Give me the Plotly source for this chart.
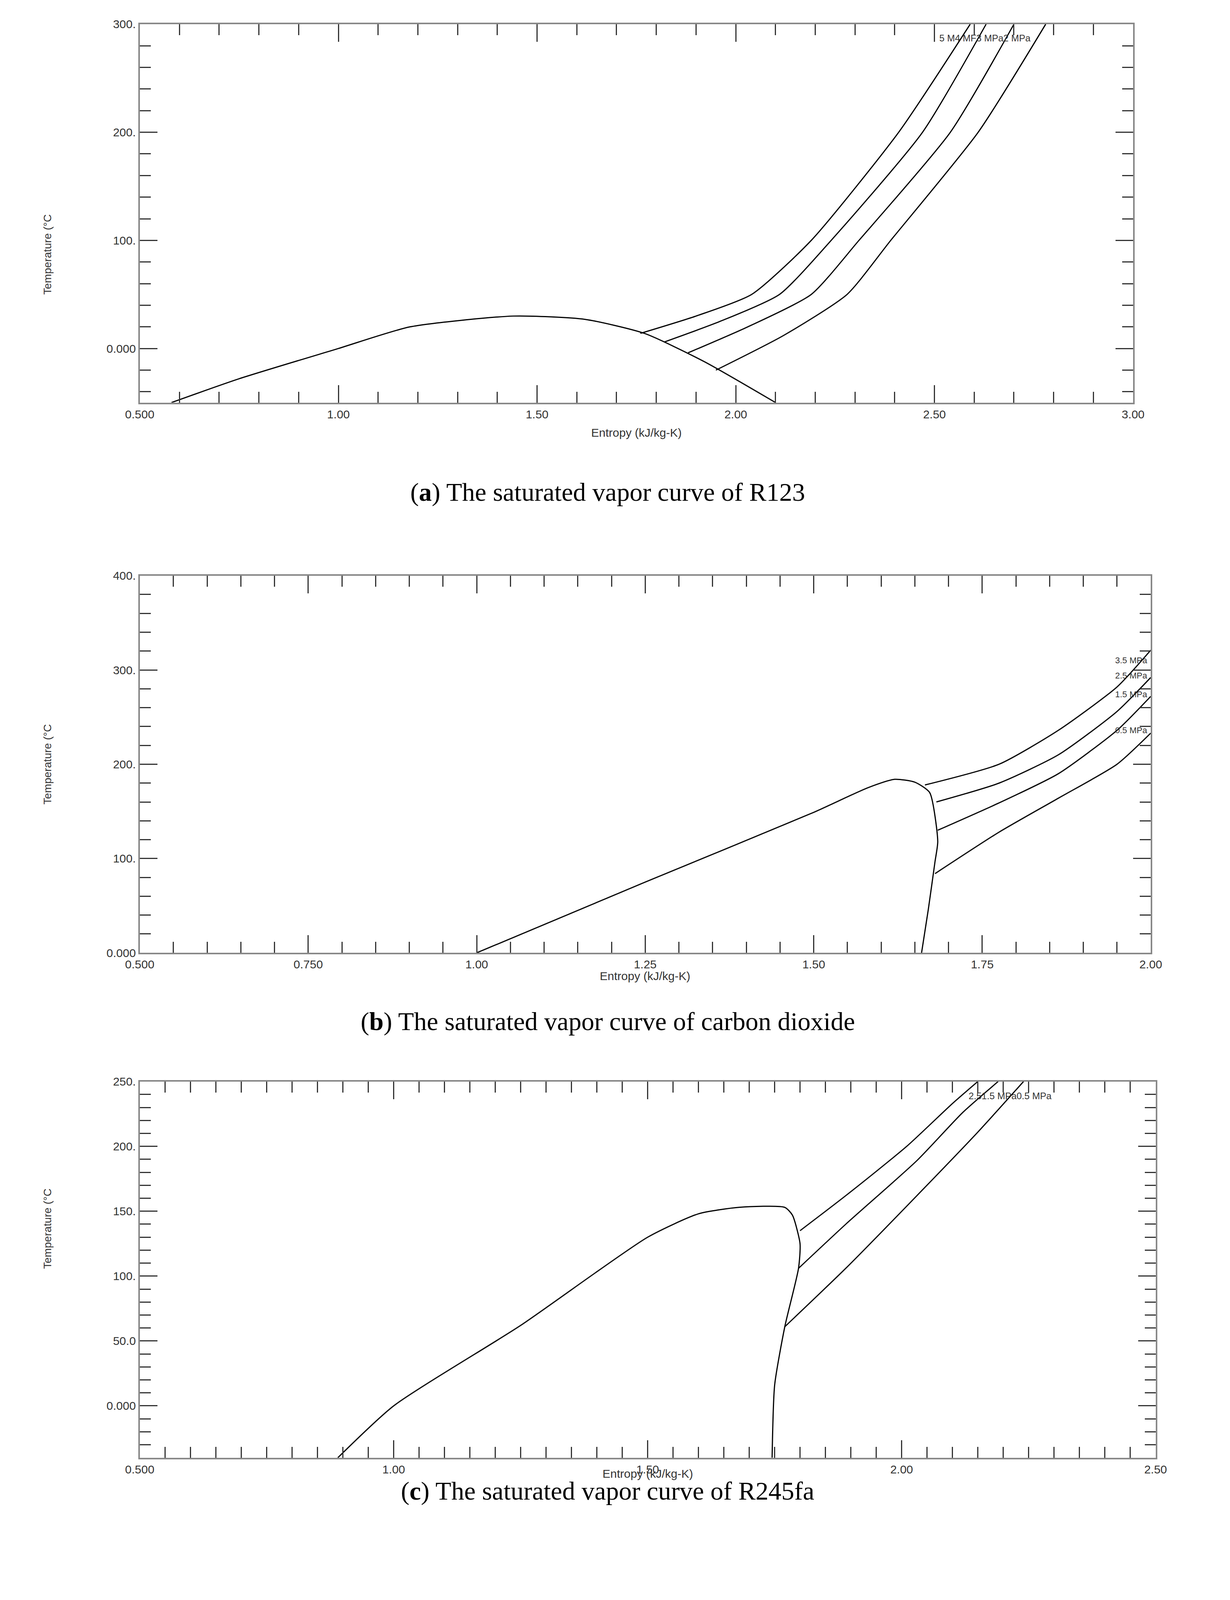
import plotly.graph_objects as go

W, H = 3148, 5022

# ---- (a) R123 ----
a_dome_s = [0.58, 0.75, 1.0, 1.18, 1.44, 1.62, 1.77, 1.92, 2.1]
a_dome_t = [-50, -28, 0, 20, 30, 27, 14, -12, -50]
a_isobar_names = ["5 MPa", "4 MPa", "3 MPa", "2 MPa"]
a_isobar_s = [
    [1.76, 1.90, 2.04, 2.19, 2.41, 2.59],
    [1.82, 1.96, 2.11, 2.24, 2.47, 2.63],
    [1.88, 2.03, 2.19, 2.31, 2.54, 2.70],
    [1.95, 2.12, 2.28, 2.39, 2.61, 2.78],
]
a_isobar_t = [
    [14, 30, 50, 100, 200, 300],
    [6, 25, 50, 100, 200, 300],
    [-4, 20, 50, 100, 200, 300],
    [-20, 12, 50, 100, 200, 300],
]
a_label = "5 M4 MF3 MPa2 MPa"

# ---- (b) carbon dioxide ----
b_dome_s = [1.0, 1.25, 1.5, 1.58, 1.62, 1.65, 1.672, 1.684, 1.68, 1.67, 1.66]
b_dome_t = [0, 75, 149, 175, 184, 181, 170, 118, 97, 46, 0]
b_isobar_names = ["3.5 MPa", "2.5 MPa", "1.5 MPa", "0.5 MPa"]
b_isobar_s = [
    [1.665, 1.775, 1.863, 1.95, 2.0],
    [1.682, 1.775, 1.863, 1.95, 2.0],
    [1.684, 1.775, 1.863, 1.95, 2.0],
    [1.68, 1.775, 1.863, 1.95, 2.0],
]
b_isobar_t = [
    [178, 200, 236, 282, 321],
    [160, 180, 210, 256, 292],
    [130, 159, 190, 236, 272],
    [84, 128, 164, 200, 233],
]
b_label_t = [310, 294, 274, 236]

# ---- (c) R245fa ----
c_dome_s = [0.89, 1.0, 1.25, 1.5, 1.6, 1.68, 1.77, 1.785, 1.80, 1.797, 1.77, 1.75, 1.745]
c_dome_t = [-40, 0, 62, 130, 148, 153, 153, 147, 125, 106, 61, 16, -40]
c_isobar_s = [
    [1.80, 1.89, 2.01, 2.10, 2.15],
    [1.797, 1.89, 2.03, 2.12, 2.19],
    [1.77, 1.89, 2.03, 2.15, 2.24],
]
c_isobar_t = [
    [135, 162, 200, 233, 250],
    [106, 140, 189, 226, 250],
    [61, 106, 162, 211, 250],
]
c_label = "2.51.5 MPa0.5 MPa"

captions = ["<b>a</b>", "<b>b</b>", "<b>c</b>"]
caption_text = [
    "The saturated vapor curve of R123",
    "The saturated vapor curve of carbon dioxide",
    "The saturated vapor curve of R245fa",
]

# panel boxes in reference pixels: left, right, top, bottom
boxes = [(325, 2977, 47, 1282), (325, 3024, 1847, 3078), (325, 3037, 3498, 4726)]
caption_y = [1525, 3302, 4884]

x_ranges = [[0.5, 3.0], [0.5, 2.0], [0.5, 2.5]]
y_ranges = [[-50, 300], [0, 400], [-40, 250]]
x_ticks = [[0.5, 1.0, 1.5, 2.0, 2.5, 3.0], [0.5, 0.75, 1.0, 1.25, 1.5, 1.75, 2.0],
           [0.5, 1.0, 1.5, 2.0, 2.5]]
x_ticktext = [["0.500", "1.00", "1.50", "2.00", "2.50", "3.00"],
              ["0.500", "0.750", "1.00", "1.25", "1.50", "1.75", "2.00"],
              ["0.500", "1.00", "1.50", "2.00", "2.50"]]
y_ticks = [[0, 100, 200, 300], [0, 100, 200, 300, 400], [0, 50, 100, 150, 200, 250]]
y_ticktext = [["0.000", "100.", "200.", "300."], ["0.000", "100.", "200.", "300.", "400."],
              ["0.000", "50.0", "100.", "150.", "200.", "250."]]
x_minor = [0.1, 0.05, 0.05]
y_minor = [20, 20, 10]

fig = go.Figure()
line = dict(color="black", width=3)


def px_x(p):
    return p / W


def px_y(p):
    return 1 - p / H


def add_curve(i, xs, ys):
    fig.add_trace(go.Scatter(x=xs, y=ys, mode="lines", line=dict(line, shape="spline", smoothing=0.6),
                             xaxis=f"x{i + 1}" if i else "x", yaxis=f"y{i + 1}" if i else "y",
                             showlegend=False, hoverinfo="skip"))


add_curve(0, a_dome_s, a_dome_t)
for s, t in zip(a_isobar_s, a_isobar_t):
    add_curve(0, s, t)
add_curve(1, b_dome_s, b_dome_t)
for s, t in zip(b_isobar_s, b_isobar_t):
    add_curve(1, s, t)
add_curve(2, c_dome_s, c_dome_t)
for s, t in zip(c_isobar_s, c_isobar_t):
    add_curve(2, s, t)

tickfont = dict(family="Liberation Sans, Arial", size=30, color="#333")
# size follows the browser window so nothing gets cut off
layout = dict(autosize=True, margin=dict(l=0, r=0, t=0, b=0),
              paper_bgcolor="white", plot_bgcolor="white", showlegend=False)
annotations = []
for i, (l, r, t, b) in enumerate(boxes):
    k = "" if i == 0 else str(i + 1)
    layout["xaxis" + k] = dict(
        domain=[px_x(l), px_x(r)], range=x_ranges[i], anchor="y" + k,
        tickvals=x_ticks[i], ticktext=x_ticktext[i], ticks="inside", ticklen=45,
        tickwidth=3, tickcolor="#333", showline=True, linecolor="#888", linewidth=4,
        mirror="allticks", showgrid=False, zeroline=False, tickfont=tickfont,
        minor=dict(ticks="inside", dtick=x_minor[i], ticklen=28, tickwidth=3, tickcolor="#333",
                   showgrid=False))
    layout["yaxis" + k] = dict(
        domain=[px_y(b), px_y(t)], range=y_ranges[i], anchor="x" + k,
        tickvals=y_ticks[i], ticktext=y_ticktext[i], ticks="inside", ticklen=45,
        tickwidth=3, tickcolor="#333", showline=True, linecolor="#888", linewidth=4,
        mirror="allticks", showgrid=False, zeroline=False, tickfont=tickfont,
        minor=dict(ticks="inside", dtick=y_minor[i], ticklen=28, tickwidth=3, tickcolor="#333",
                   showgrid=False))
    # axis titles
    annotations.append(dict(x=px_x(60), y=px_y((t + b) / 2), xref="paper", yref="paper",
                            text="Temperature (°C", textangle=-90, showarrow=False,
                            font=dict(family="Liberation Sans, Arial", size=28, color="#333")))
    annotations.append(dict(x=px_x((l + r) / 2), y=px_y(b + 75), xref="paper", yref="paper",
                            text="Entropy (kJ/kg-K)", showarrow=False,
                            font=dict(family="Liberation Sans, Arial", size=30, color="#333")))
    annotations.append(dict(x=0.5, y=px_y(caption_y[i]), xref="paper", yref="paper",
                            text=f"({captions[i]}) {caption_text[i]}", showarrow=False,
                            font=dict(family="Liberation Serif, serif", size=66, color="black")))

annotations.append(dict(x=2.51, y=287, xref="x", yref="y", text=a_label, xanchor="left",
                        showarrow=False, font=dict(family="Liberation Sans", size=24, color="#333")))
for name, ty in zip(b_isobar_names, b_label_t):
    annotations.append(dict(x=1.946, y=ty, xref="x2", yref="y2", text=name, xanchor="left",
                            showarrow=False, font=dict(family="Liberation Sans", size=22, color="#333")))
annotations.append(dict(x=2.13, y=239, xref="x3", yref="y3", text=c_label, xanchor="left",
                        showarrow=False, font=dict(family="Liberation Sans", size=24, color="#333")))

layout["annotations"] = annotations
fig.update_layout(**layout)
fig.write_html("out.html", default_width="98vw", default_height="97vh")
